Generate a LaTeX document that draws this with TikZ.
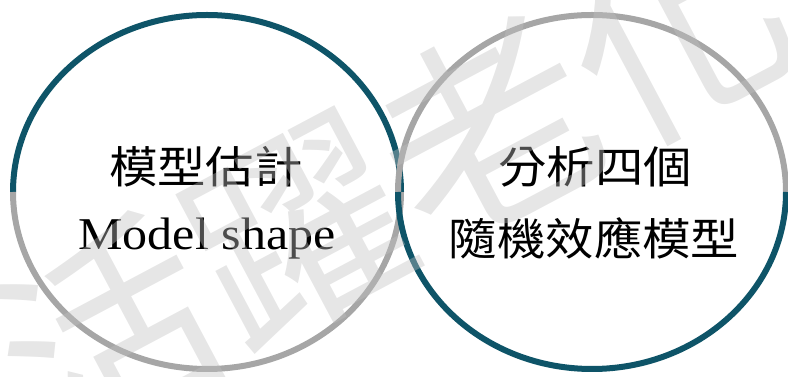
\documentclass[tikz,border=0pt]{standalone}
\usepackage{graphicx}
\usepackage{fontspec}
\setmainfont{Liberation Serif}
\newfontfamily\cjk{Noto Sans CJK TC}
\definecolor{ringteal}{HTML}{0E5468}
\definecolor{ringgray}{HTML}{A6A6A6}
\definecolor{wmgray}{HTML}{C0C0C0}
\newcommand\widetxt[1]{\scalebox{1.1}[1]{#1}}
\begin{document}
\begin{tikzpicture}[x=1pt,y=1pt,
  ring/.style={line width=6pt},
  lbl/.style={font=\fontsize{44}{50}\selectfont, inner sep=0pt, anchor=base, text=black},
  latinlbl/.style={lbl, font=\fontsize{45.5}{50}\selectfont},
  wm/.style={font=\cjk\fontsize{215}{220}\selectfont, text=wmgray, text opacity=0.4, inner sep=0pt}]
\useasboundingbox (0,0) rectangle (788,377);
\coordinate (c1) at (207,185);
\coordinate (c2) at (592,185);
% left ring
\draw[ring, ringteal] (c1) ++(180:194pt and 177pt) arc[start angle=180, end angle=0, x radius=194pt, y radius=177pt];
\draw[ring, ringgray] (c1) ++(0:194pt and 177pt) arc[start angle=0, end angle=-180, x radius=194pt, y radius=177pt];
% right ring
\draw[ring, ringgray] (c2) ++(180:194pt and 177pt) arc[start angle=180, end angle=0, x radius=194pt, y radius=177pt];
\draw[ring, ringteal] (c2) ++(0:194pt and 177pt) arc[start angle=0, end angle=-180, x radius=194pt, y radius=177pt];
% labels
\node[lbl] (t1) at (206,193) {\widetxt{\cjk 模型估計}};
\node[latinlbl] (t2) at (207,127) {\widetxt{Model shape}};
\node[lbl] (t3) at (595,193) {\widetxt{\cjk 分析四個}};
\node[lbl] (t4) at (594,121) {\widetxt{\cjk 隨機效應模型}};
% watermark
\node[wm, rotate=28] (wm1) at (392,196) {活躍老化};
\end{tikzpicture}
\end{document}
